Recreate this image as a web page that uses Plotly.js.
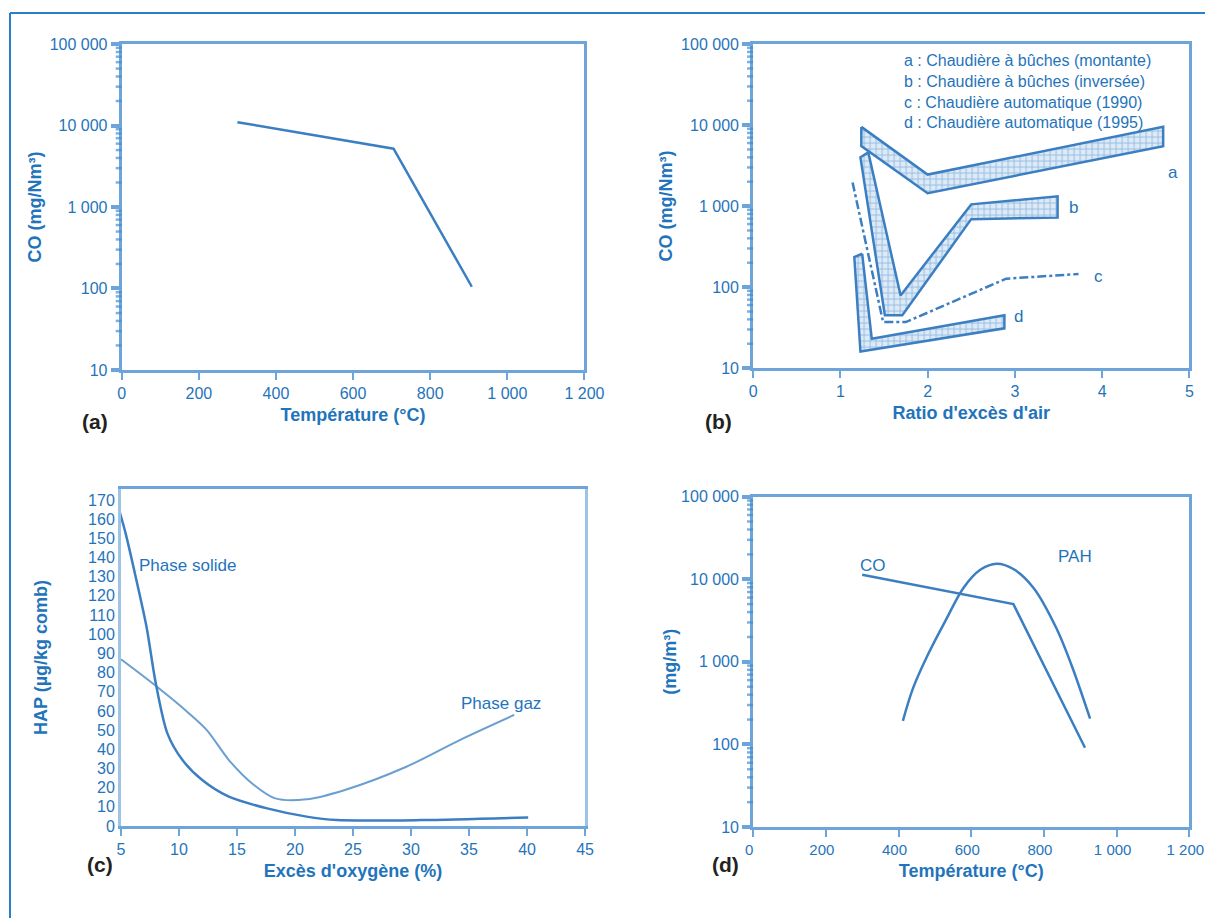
<!DOCTYPE html>
<html><head><meta charset="utf-8">
<script src="https://cdn.plot.ly/plotly-3.0.1.min.js"></script>
<style>html,body{margin:0;padding:0;background:#fff}#chart{width:1205px;height:918px}</style>
</head><body><div id="chart"></div>
<script>
// ---- Data (a) ----
const aTemp = [300, 705, 908];
const aCO = [11000, 5200, 105];
// ---- Data (b) : band edges ----
const bandA_upX = [1.24, 2.0, 4.70];
const bandA_upY = [9500, 2450, 9500];
const bandA_loX = [1.24, 2.0, 4.70];
const bandA_loY = [5500, 1440, 5500];
const bandB_upX = [1.32, 1.69, 2.50, 3.49];
const bandB_upY = [4600, 79, 1050, 1320];
const bandB_loX = [1.23, 1.51, 1.71, 2.50, 3.49];
const bandB_loY = [4000, 45, 45, 690, 720];
const lineC_X = [1.14, 1.49, 1.75, 1.97, 2.42, 2.90, 3.73];
const lineC_Y = [1950, 37, 37, 47, 75, 127, 145];
const bandD_upX = [1.25, 1.36, 2.88];
const bandD_upY = [258, 23, 45];
const bandD_loX = [1.16, 1.23, 2.88];
const bandD_loY = [235, 16, 31];
const bLegend = ["a : Chaudière à bûches (montante)", "b : Chaudière à bûches (inversée)", "c : Chaudière automatique (1990)", "d : Chaudière automatique (1995)"];
// ---- Data (c) ----
const solideX = [4.8, 5.4, 6.2, 7.2, 8.0, 9.0, 10.3, 12.0, 14.3, 17.6, 21.0, 23.6, 30.9, 40.1];
const solideY = [165.6, 152.6, 131.7, 103.9, 74.4, 48.3, 34.4, 24.0, 15.3, 9.2, 4.9, 3.1, 3.1, 4.5];
const gazX = [5.0, 8.1, 10.7, 12.4, 14.3, 16.3, 18.3, 21.0, 24.3, 29.6, 34.2, 38.9];
const gazY = [86.9, 72.6, 59.6, 50.0, 34.4, 22.2, 14.4, 13.9, 18.8, 30.9, 44.8, 57.9];
// ---- Data (d) ----
const dCOx = [300, 716, 913];
const dCOy = [11300, 5000, 91];
const pahX = [412, 440, 480, 530, 580, 625, 670, 717, 771, 834, 876, 927];
const pahY = [193, 480, 1200, 3200, 8000, 13000, 15400, 13200, 7900, 2570, 910, 205];
// ---- Tick labels ----
const tempTicks = [0, 200, 400, 600, 800, 1000, 1200];
const tempLabels = ["0", "200", "400", "600", "800", "1 000", "1 200"];
const logTicks = [10, 100, 1000, 10000, 100000];
const logLabels = ["10", "100", "1 000", "10 000", "100 000"];
const ratioTicks = [0, 1, 2, 3, 4, 5];
const oxyTicks = [5, 10, 15, 20, 25, 30, 35, 40, 45];
const hapTicks = [0,10,20,30,40,50,60,70,80,90,100,110,120,130,140,150,160,170];

const TXT = '#1f74bb';
const LINE = '#3b7fc2';
const AX = 'rgba(60,135,205,0.75)';
const tickFont = {family: 'Liberation Sans Narrow, Arial Narrow, Liberation Sans, Arial', size: 16, color: TXT};
const titleFont = {family: 'Liberation Sans, Arial', size: 18, color: TXT, weight: 'bold'};

const minorLog = [];
for (let e = 1; e < 5; e++) for (let m = 2; m <= 9; m++) minorLog.push(m * Math.pow(10, e));

function X(domain, range, tv, tt, title, standoff) {
  return {domain, range, tickvals: tv, ticktext: tt, tickmode: 'array', showline: true, mirror: true,
    linecolor: AX, linewidth: 3, ticks: 'outside', ticklen: 7, tickwidth: 2, tickcolor: AX,
    showgrid: false, zeroline: false, tickfont: tickFont, fixedrange: true, ticklabeloverflow: 'allow',
    title: {text: title, font: titleFont, standoff: standoff}, automargin: false};
}
function YL(domain, title, standoff) {
  return {domain, type: 'log', range: [1, 5], tickvals: logTicks, ticktext: logLabels, tickmode: 'array',
    showline: true, mirror: true, linecolor: AX, linewidth: 3, ticks: 'outside', ticklen: 8, tickwidth: 4, tickcolor: AX,
    showgrid: false, zeroline: false, tickfont: tickFont, fixedrange: true,
    title: {text: title, font: titleFont, standoff: standoff}, automargin: false};
}
// short minor tick marks drawn along a log y axis (axis decoration, positioned by the axis scale)
function minorShapes(xref, yref, frac) {
  return minorLog.map(v => ({type: 'line', xref: xref + ' domain', yref: yref, x0: -frac, x1: 0, y0: v, y1: v,
    line: {color: 'rgba(60,135,205,0.65)', width: 2.5}, layer: 'above'}));
}
function poly(ux, uy, lx, ly, xa, ya) {
  return {x: ux.concat(lx.slice().reverse(), [ux[0]]), y: uy.concat(ly.slice().reverse(), [uy[0]]),
    xaxis: xa, yaxis: ya, mode: 'lines', fill: 'toself',
    fillcolor: 'rgba(120,170,220,0.35)',
    fillpattern: {shape: '+', fgcolor: 'rgba(90,150,210,0.55)', bgcolor: 'rgba(200,222,242,0.6)', size: 6, solidity: 0.3},
    line: {color: LINE, width: 2.5}, hoverinfo: 'skip', showlegend: false};
}

const data = [
  {x: aTemp, y: aCO, xaxis: 'x', yaxis: 'y', mode: 'lines', line: {color: LINE, width: 2.5}, showlegend: false},
  poly(bandA_upX, bandA_upY, bandA_loX, bandA_loY, 'x2', 'y2'),
  poly(bandB_upX, bandB_upY, bandB_loX, bandB_loY, 'x2', 'y2'),
  poly(bandD_upX, bandD_upY, bandD_loX, bandD_loY, 'x2', 'y2'),
  {x: lineC_X, y: lineC_Y, xaxis: 'x2', yaxis: 'y2', mode: 'lines', line: {color: LINE, width: 2.5, dash: 'dashdot'}, showlegend: false},
  {x: solideX, y: solideY, xaxis: 'x3', yaxis: 'y3', mode: 'lines', line: {color: LINE, width: 2.5, shape: 'spline', smoothing: 0.8}, showlegend: false},
  {x: gazX, y: gazY, xaxis: 'x3', yaxis: 'y3', mode: 'lines', line: {color: 'rgba(59,127,194,0.75)', width: 2, shape: 'spline', smoothing: 0.8}, showlegend: false},
  {x: dCOx, y: dCOy, xaxis: 'x4', yaxis: 'y4', mode: 'lines', line: {color: LINE, width: 2.5}, showlegend: false},
  {x: pahX, y: pahY, xaxis: 'x4', yaxis: 'y4', mode: 'lines', line: {color: LINE, width: 2.5, shape: 'spline', smoothing: 1}, showlegend: false}
];

const labFont = {family: 'Liberation Sans Narrow, Arial Narrow, Liberation Sans, Arial', size: 17, color: TXT};
const panFont = {family: 'Liberation Sans, Arial', size: 21, color: '#222', weight: 'bold'};
const layout = {
  width: 1205, height: 918, margin: {l: 0, r: 0, t: 0, b: 0},
  paper_bgcolor: '#fff', plot_bgcolor: '#fff', showlegend: false,
  xaxis: Object.assign(X([0.101, 0.485], [0, 1200], tempTicks, tempLabels, 'Température (°C)', 8), {anchor: 'y'}),
  yaxis: Object.assign(YL([0.597, 0.952], 'CO (mg/Nm³)', 4), {anchor: 'x'}),
  xaxis2: Object.assign(X([0.625, 0.987], [0, 5], ratioTicks, ratioTicks.map(String), "Ratio d'excès d'air", 8), {anchor: 'y2'}),
  yaxis2: Object.assign(YL([0.599, 0.952], 'CO (mg/Nm³)', 4), {anchor: 'x2'}),
  xaxis3: Object.assign(X([0.1004, 0.4855], [5, 45], oxyTicks, oxyTicks.map(String), "Excès d'oxygène (%)", 8), {anchor: 'y3'}),
  yaxis3: {domain: [0.1002, 0.4673], range: [0, 175.7], tickvals: hapTicks, ticktext: hapTicks.map(String), tickmode: 'array',
    showline: true, mirror: true, linecolor: 'rgba(60,135,205,0.5)', linewidth: 3, ticks: '', showgrid: false, zeroline: false,
    tickfont: tickFont, fixedrange: true, anchor: 'x3', title: {text: 'HAP (µg/kg comb)', font: titleFont, standoff: 36}, automargin: false},
  xaxis4: Object.assign(X([0.625, 0.987], [0, 1200], tempTicks, tempLabels, 'Température (°C)', 8),
    {anchor: 'y4', ticklabelshift: -4, tickfont: Object.assign({}, tickFont, {size: 15})}),
  yaxis4: Object.assign(YL([0.0991, 0.459], '(mg/m³)', 0), {anchor: 'x4'}),
  shapes: [
    {type: 'line', xref: 'paper', yref: 'paper', x0: 10/1205, x1: 1, y0: 1-13/918, y1: 1-13/918, line: {color: '#2a7fc6', width: 2}},
    {type: 'line', xref: 'paper', yref: 'paper', x0: 10/1205, x1: 10/1205, y0: 0, y1: 1-13/918, line: {color: '#2a7fc6', width: 2}}
  ].concat(minorShapes('x', 'y', 0.013), minorShapes('x2', 'y2', 0.014), minorShapes('x4', 'y4', 0.014)),
  annotations: [
    {text: '(a)', xref: 'paper', yref: 'paper', x: 80/1205, y: 1-421/918, showarrow: false, font: panFont},
    {text: '(b)', xref: 'paper', yref: 'paper', x: 718/1205, y: 1-421/918, showarrow: false, font: panFont},
    {text: '(c)', xref: 'paper', yref: 'paper', x: 85/1205, y: 1-878/918, showarrow: false, font: panFont},
    {text: '(d)', xref: 'paper', yref: 'paper', x: 725/1205, y: 1-878/918, showarrow: false, font: panFont},
    {text: bLegend.join('<br>'), xref: 'paper', yref: 'paper', x: 902/1205, y: 1-50/918, xanchor: 'left', yanchor: 'top', align: 'left', showarrow: false, font: {family: labFont.family, size: 16, color: TXT}},
    {text: 'a', xref: 'x2', yref: 'y2', x: 4.73, y: Math.log10(2600), xanchor: 'left', showarrow: false, font: labFont},
    {text: 'b', xref: 'x2', yref: 'y2', x: 3.6, y: Math.log10(950), xanchor: 'left', showarrow: false, font: labFont},
    {text: 'c', xref: 'x2', yref: 'y2', x: 3.88, y: Math.log10(135), xanchor: 'left', showarrow: false, font: labFont},
    {text: 'd', xref: 'x2', yref: 'y2', x: 2.97, y: Math.log10(43), xanchor: 'left', showarrow: false, font: labFont},
    {text: 'Phase solide', xref: 'x3', yref: 'y3', x: 6.4, y: 136, xanchor: 'left', showarrow: false, font: labFont},
    {text: 'Phase gaz', xref: 'x3', yref: 'y3', x: 34.1, y: 64, xanchor: 'left', showarrow: false, font: labFont},
    {text: 'CO', xref: 'x4', yref: 'y4', x: 330, y: Math.log10(14500), showarrow: false, font: labFont},
    {text: 'PAH', xref: 'x4', yref: 'y4', x: 885, y: Math.log10(19000), showarrow: false, font: labFont}
  ]
};
Plotly.newPlot('chart', data, layout, {displayModeBar: false, staticPlot: true});
</script></body></html>
